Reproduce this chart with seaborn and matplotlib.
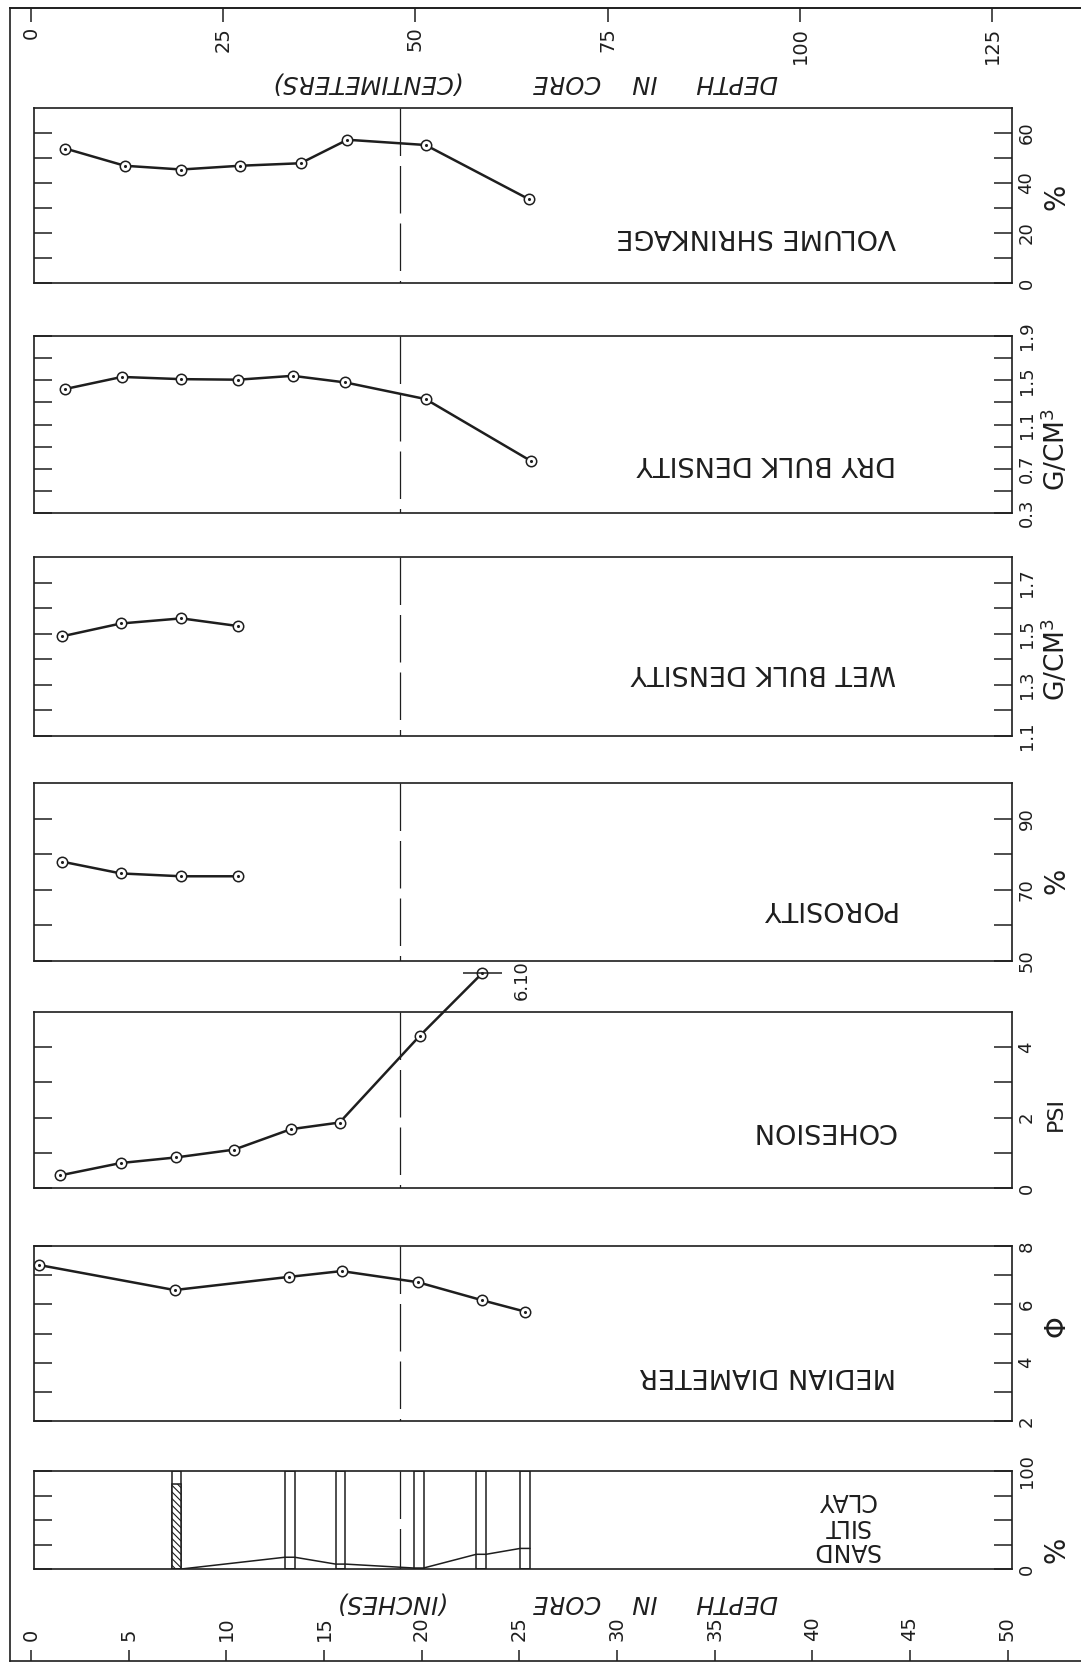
import matplotlib
matplotlib.use("Agg")
import matplotlib.pyplot as plt
import seaborn as sns

# ---------------- data ----------------
inch_ticks = [0, 5, 10, 15, 20, 25, 30, 35, 40, 45, 50]
cm_ticks = [0, 25, 50, 75, 100, 125]
core_break = 18.9  # inches, dashed line

vs_depth = [1.75, 4.8, 7.7, 10.7, 13.8, 16.2, 20.2, 25.5]
vs_value = [53.8, 46.9, 45.4, 46.9, 47.9, 57.3, 55.2, 33.5]

dbd_depth = [1.73, 4.65, 7.7, 10.6, 13.4, 16.1, 20.2, 25.6]
dbd_value = [1.42, 1.53, 1.51, 1.505, 1.54, 1.48, 1.33, 0.77]

wbd_depth = [1.6, 4.6, 7.7, 10.6]
wbd_value = [1.49, 1.54, 1.56, 1.53]

por_depth = [1.6, 4.6, 7.7, 10.6]
por_value = [77.9, 74.6, 73.8, 73.8]

coh_depth = [1.5, 4.6, 7.45, 10.4, 13.3, 15.8, 19.9, 23.1]
coh_value = [0.36, 0.71, 0.87, 1.09, 1.67, 1.86, 4.32, 6.10]
coh_off_label = "6.10"

md_depth = [0.4, 7.35, 13.2, 15.9, 19.8, 23.1, 25.3]
md_value = [7.35, 6.49, 6.94, 7.14, 6.76, 6.14, 5.75]

ssc_depth = [7.45, 13.25, 15.85, 19.85, 23.05, 25.3]
ssc_sand = [0, 12, 5, 1, 15, 21]
ssc_hatched = [87, 0, 0, 0, 0, 0]
ssc_full = [100, 100, 100, 100, 100, 100]
ssc_labels = ["SAND", "SILT", "CLAY"]

# ---------------- style / layout ----------------
INK = "#1e1e1e"
sns.set_theme(style="ticks", rc={
    "axes.edgecolor": INK, "text.color": INK, "xtick.color": INK,
    "ytick.color": INK, "axes.labelcolor": INK, "axes.linewidth": 1.1,
    "hatch.linewidth": 0.8, "hatch.color": INK,
})
plt.rcParams["font.family"] = ["DejaVu Sans"]

W, H = 1081, 1664
fig = plt.figure(figsize=(W / 100, H / 100), dpi=100, facecolor="white")

DEPTH0_PX = 31.0
PX_PER_IN = 19.53


def px2in(px):
    return (px - DEPTH0_PX) / PX_PER_IN


def rect(x0, y0, x1, y1):
    return [x0 / W, 1 - y1 / H, (x1 - x0) / W, (y1 - y0) / H]


# outer frame with the two depth scales
fr = fig.add_axes(rect(10, 8, 1100, 1661), zorder=0)
fr.set_xlim(px2in(10), px2in(1100))
fr.set_ylim(0, 1)
fr.set_yticks([])
for s in fr.spines.values():
    s.set_linewidth(1.2)
fr.set_xticks(inch_ticks)
fr.set_xticklabels([str(t) for t in inch_ticks])
fr.tick_params(axis="x", bottom=True, direction="in", length=8, width=1.1,
               pad=-14.4, labelrotation=90, labelsize=14)
for lab in fr.get_xticklabels():
    lab.set_va("bottom")
sec = fr.secondary_xaxis("top", functions=(lambda v: v * 2.54, lambda v: v / 2.54))
sec.set_xticks(cm_ticks)
sec.set_xticklabels([str(t) for t in cm_ticks])
sec.tick_params(axis="x", top=True, direction="in", length=10, width=1.1,
                pad=-13.5, labelrotation=90, labelsize=14)
sec.spines["top"].set_linewidth(1.2)
for lab in sec.get_xticklabels():
    lab.set_va("top")

fig.text(778 / W, 1 - 82 / H, "DEPTH     IN    CORE         (CENTIMETERS)",
         rotation=180, ha="right", va="center", style="italic", fontsize=17.5)
fig.text(778 / W, 1 - 1603 / H, "DEPTH     IN    CORE           (INCHES)",
         rotation=180, ha="right", va="center", style="italic", fontsize=17.5)

PX_LEFT, PX_RIGHT = 34, 1012

panels = [
    dict(title="VOLUME SHRINKAGE", top=108, bot=283, ylim=(0, 70),
         major=[0, 20, 40, 60], minor=[10, 30, 50], unit="%", unit_y=0.49,
         unit_size=20, title_y=0.27, x=vs_depth, y=vs_value),
    dict(title="DRY BULK DENSITY", top=336, bot=513, ylim=(0.3, 1.9),
         major=[0.3, 0.7, 1.1, 1.5, 1.9], minor=[0.5, 0.9, 1.3, 1.7],
         unit=r"G/CM$^3$", unit_y=0.36, unit_size=19, title_y=0.28,
         x=dbd_depth, y=dbd_value),
    dict(title="WET BULK DENSITY", top=557, bot=736, ylim=(1.1, 1.8),
         major=[1.1, 1.3, 1.5, 1.7], minor=[1.2, 1.4, 1.6],
         unit=r"G/CM$^3$", unit_y=0.43, unit_size=19, title_y=0.36,
         x=wbd_depth, y=wbd_value),
    dict(title="POROSITY", top=783, bot=961, ylim=(50, 100),
         major=[50, 70, 90], minor=[60, 80], unit="%", unit_y=0.45,
         unit_size=20, title_y=0.30, x=por_depth, y=por_value),
    dict(title="COHESION", top=1012, bot=1188, ylim=(0, 5),
         major=[0, 2, 4], minor=[1, 3], unit="PSI", unit_y=0.42,
         unit_size=16, title_y=0.33, x=coh_depth, y=coh_value),
    dict(title="MEDIAN DIAMETER", top=1246, bot=1421, ylim=(2, 8),
         major=[2, 4, 6, 8], minor=[3, 5, 7], unit="\u03A6", unit_y=0.54,
         unit_size=20, title_y=0.26, x=md_depth, y=md_value),
    dict(title=None, top=1471, bot=1569, ylim=(0, 100),
         major=[0, 100], minor=[25, 50, 75], unit="%", unit_y=0.2,
         unit_size=20, title_y=None, x=None, y=None),
]

axes = []
for p in panels:
    ax = fig.add_axes(rect(PX_LEFT, p["top"], PX_RIGHT, p["bot"]), zorder=2)
    ax.set_facecolor("white")
    ax.set_xlim(px2in(PX_LEFT), px2in(PX_RIGHT))
    ax.set_ylim(*p["ylim"])
    ax.set_xticks([])
    ax.set_yticks(p["major"])
    ax.set_yticklabels([f"{v:g}" for v in p["major"]])
    ax.set_yticks(p["minor"], minor=True)
    ax.tick_params(axis="y", which="both", left=True, right=True,
                   direction="in", length=13, width=1.1,
                   labelleft=False, labelright=True, labelrotation=90,
                   pad=4, labelsize=13)
    for lab in ax.get_yticklabels():
        lab.set_va("center")
    for s in ax.spines.values():
        s.set_linewidth(1.2)
        s.set_visible(True)
    ax.plot([core_break, core_break], [1, 0], transform=ax.get_xaxis_transform(),
            color=INK, lw=0.9, dashes=(38, 8), zorder=1.5)
    ax.text(1.045, p["unit_y"], p["unit"], transform=ax.transAxes, rotation=90,
            ha="center", va="center", fontsize=p["unit_size"])
    if p["title"]:
        ax.text(0.881, p["title_y"], p["title"], transform=ax.transAxes,
                rotation=180, ha="right", va="center", fontsize=19.5)
    if p["x"] is not None:
        sns.lineplot(x=p["x"], y=p["y"], ax=ax, color=INK, linewidth=1.8,
                     marker="o", markersize=7.5, markerfacecolor="white",
                     markeredgecolor=INK, markeredgewidth=1.1, clip_on=False,
                     zorder=3, estimator=None, sort=False, legend=False)
        sns.scatterplot(x=p["x"], y=p["y"], ax=ax, s=5, color=INK, linewidth=0,
                        zorder=4, clip_on=False, legend=False)
    axes.append(ax)

# cohesion: off-scale value marker and label
ax_c = axes[4]
ax_c.hlines(coh_value[-1], coh_depth[-1] - 1.0, coh_depth[-1] + 1.0,
            color=INK, lw=1.1, clip_on=False, zorder=3)
ax_c.annotate(coh_off_label, xy=(coh_depth[-1], coh_value[-1]),
              xytext=(22, -5), textcoords="offset points", rotation=90,
              ha="left", va="center", fontsize=13, annotation_clip=False)

# sand / silt / clay panel
ax_s = axes[6]
bar_w = 0.5
ax_s.bar(ssc_depth, ssc_full, width=bar_w, bottom=0, color="white",
         edgecolor=INK, linewidth=1.1, zorder=2)
ax_s.bar(ssc_depth, ssc_hatched, width=bar_w, bottom=0, color="white",
         edgecolor=INK, linewidth=1.1, hatch="\\\\\\\\\\", zorder=2.1)
sx, sy = [], []
for d, v in zip(ssc_depth, ssc_sand):
    sx += [d - bar_w / 2, d + bar_w / 2]
    sy += [v, v]
sns.lineplot(x=sx, y=sy, ax=ax_s, color=INK, linewidth=1.1, estimator=None,
             sort=False, legend=False, zorder=3)
for lab, yf in zip(ssc_labels, [0.19, 0.44, 0.70]):
    ax_s.text(0.83, yf, lab, transform=ax_s.transAxes, rotation=180,
              ha="center", va="center", fontsize=17)

fig.savefig("out.png", dpi=100, facecolor="white")
